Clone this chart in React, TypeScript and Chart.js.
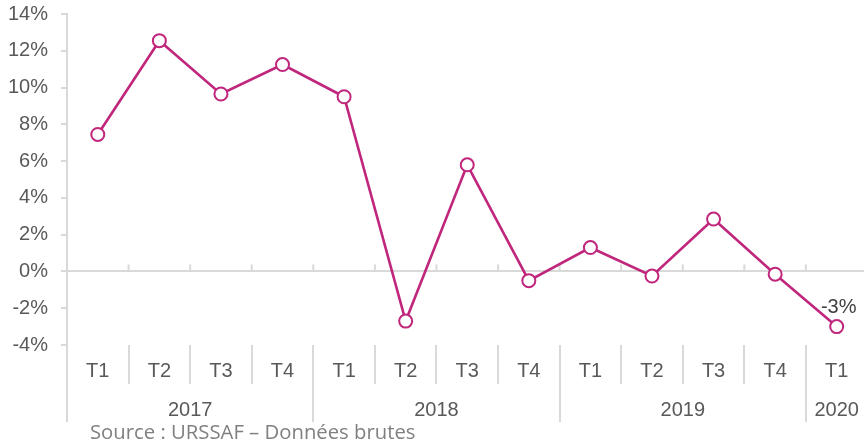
import React, { useEffect, useRef } from "react";
import { Chart, registerables } from "chart.js";

Chart.register(...registerables);

const quarters = ["T1", "T2", "T3", "T4", "T1", "T2", "T3", "T4", "T1", "T2", "T3", "T4", "T1"];
const years = ["2017", "2018", "2019", "2020"];
const yearSpans = [4, 4, 4, 1];
const values = [7.45, 12.55, 9.65, 11.25, 9.5, -2.7, 5.8, -0.5, 1.3, -0.25, 2.85, -0.15, -3.0];
const yTicks = [-4, -2, 0, 2, 4, 6, 8, 10, 12, 14];
const lastLabel = "-3%";
const sourceText = "Source : URSSAF – Données brutes";

const LINE = "#c0267c";
const GRID = "#d9d9d9";
const TEXT = "#595959";
const FONT = "'Liberation Sans', Arial, sans-serif";

// year boundaries & centers in quarter units
const yearBounds: number[] = [0];
yearSpans.forEach((s) => yearBounds.push(yearBounds[yearBounds.length - 1] + s));
const yearCenters = yearSpans.map((s, i) => yearBounds[i] + s / 2);

export default function App() {
  const ref = useRef<HTMLCanvasElement | null>(null);

  useEffect(() => {
    if (!ref.current) return;

    const zeroTicks = {
      id: "zeroTicks",
      beforeDatasetsDraw(chart: any) {
        const x = chart.scales.x;
        const y = chart.scales.y;
        const ctx = chart.ctx;
        const y0 = y.getPixelForValue(0);
        ctx.save();
        ctx.strokeStyle = GRID;
        ctx.lineWidth = 2;
        for (let i = 1; i < quarters.length; i++) {
          const px = (x.getPixelForTick(i - 1) + x.getPixelForTick(i)) / 2;
          ctx.beginPath();
          ctx.moveTo(px, y0 - 7);
          ctx.lineTo(px, y0);
          ctx.stroke();
        }
        ctx.restore();
      },
    };

    const lastValueLabel = {
      id: "lastValueLabel",
      afterDatasetsDraw(chart: any) {
        const meta = chart.getDatasetMeta(0);
        const pt = meta.data[meta.data.length - 1];
        if (!pt) return;
        const ctx = chart.ctx;
        ctx.save();
        ctx.font = `20px ${FONT}`;
        ctx.fillStyle = "#404040";
        ctx.textAlign = "center";
        ctx.textBaseline = "middle";
        ctx.fillText(lastLabel, pt.x + 2, pt.y - 19);
        ctx.restore();
      },
    };

    const chart = new Chart(ref.current, {
      type: "line",
      data: {
        labels: quarters,
        datasets: [
          {
            data: values,
            borderColor: LINE,
            borderWidth: 2.6,
            pointBackgroundColor: "#ffffff",
            pointBorderColor: LINE,
            pointBorderWidth: 2,
            pointRadius: 6.5,
            tension: 0,
            clip: false as any,
          },
        ],
      },
      options: {
        responsive: false,
        animation: false,
        layout: { padding: { top: 0, bottom: 20, left: 0, right: 0 } },
        plugins: { legend: { display: false }, tooltip: { enabled: false }, title: { display: false } },
        scales: {
          y: {
            min: -4,
            max: 14,
            afterBuildTicks: (s: any) => {
              s.ticks = yTicks.map((v) => ({ value: v }));
            },
            afterFit: (s: any) => {
              s.width = 67;
            },
            border: { display: true, color: GRID, width: 2 },
            grid: {
              drawOnChartArea: true,
              color: (c: any) => (c.tick && c.tick.value === 0 ? GRID : "rgba(0,0,0,0)"),
              lineWidth: 2,
              tickColor: GRID,
              tickLength: 6,
              drawTicks: true,
            },
            ticks: {
              color: TEXT,
              font: { family: FONT, size: 20 },
              padding: 13,
              callback: (v: any) => `${v}%`,
            },
          },
          x: {
            type: "category",
            position: "bottom",
            offset: true,
            afterFit: (s: any) => {
              s.height = 39;
            },
            border: { display: false },
            grid: {
              offset: true,
              drawOnChartArea: false,
              drawTicks: true,
              tickLength: 39,
              tickColor: GRID,
              lineWidth: 2,
            },
            ticks: {
              color: TEXT,
              font: { family: FONT, size: 20 },
              padding: -25,
              maxRotation: 0,
              autoSkip: false,
            },
          },
          x2: {
            type: "linear",
            position: "bottom",
            min: 0,
            max: quarters.length,
            afterBuildTicks: (s: any) => {
              const t: any[] = [];
              yearBounds.forEach((b) => t.push({ value: b }));
              yearCenters.forEach((c) => t.push({ value: c }));
              t.sort((a, b) => a.value - b.value);
              s.ticks = t;
            },
            afterFit: (s: any) => {
              s.height = 40;
            },
            border: { display: false },
            grid: {
              drawOnChartArea: false,
              drawTicks: true,
              tickLength: 38,
              lineWidth: 2,
              tickColor: (c: any) => {
                const v = c.tick ? c.tick.value : -1;
                return yearBounds.includes(v) ? GRID : "rgba(0,0,0,0)";
              },
            },
            ticks: {
              color: TEXT,
              font: { family: FONT, size: 20 },
              padding: -24,
              maxRotation: 0,
              autoSkip: false,
              callback: function (this: any, v: any) {
                const idx = yearCenters.indexOf(Number(v));
                return idx >= 0 ? years[idx] : "";
              },
            },
          },
        },
      },
      plugins: [zeroTicks, lastValueLabel],
    });

    return () => chart.destroy();
  }, []);

  return (
    <div style={{ position: "fixed", left: 0, top: 0, width: 864, height: 444, overflow: "hidden", background: "#fff" }}>
      <canvas ref={ref} width={876} height={455} style={{ position: "absolute", left: 0, top: -11, width: 876, height: 455 }} />
      <div
        style={{
          position: "absolute",
          left: 90,
          top: 419,
          fontFamily: "'Open Sans', 'Noto Sans', sans-serif",
          fontSize: 20.3,
          lineHeight: "24px",
          color: "#808080",
          whiteSpace: "nowrap",
        }}
      >
        {sourceText}
      </div>
    </div>
  );
}
